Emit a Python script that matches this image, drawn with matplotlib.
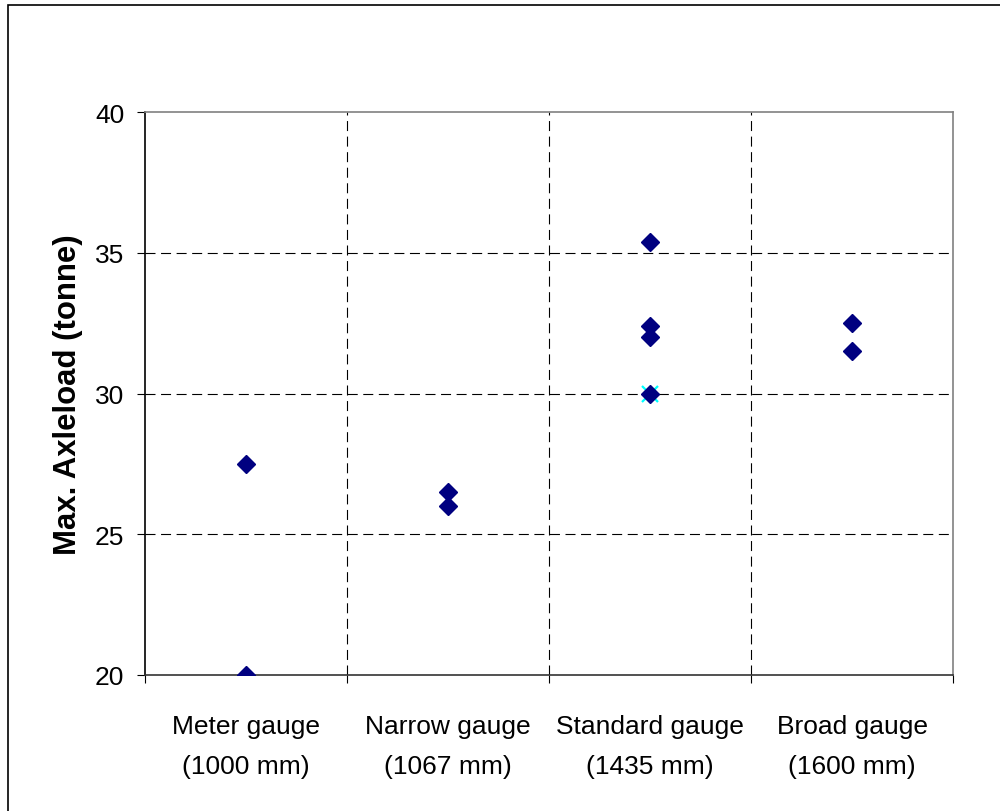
#!/usr/bin/env python3
"""Max. axleload per track gauge, drawn as a category scatter."""

import matplotlib

matplotlib.use("Agg")
import matplotlib.pyplot as plt
from matplotlib import font_manager
from matplotlib.patches import Rectangle

gauges = ["Meter gauge\n(1000 mm)", "Narrow gauge\n(1067 mm)",
          "Standard gauge\n(1435 mm)", "Broad gauge\n(1600 mm)"]
meter_loads = [27.5, 20.0]
narrow_loads = [26.5, 26.0]
standard_loads = [35.4, 32.4, 32.0, 30.0]
broad_loads = [32.5, 31.5]
standard_extra = [30.0]
y_ticks = [20, 25, 30, 35, 40]


def pick_font():
    try:
        font_manager.findfont("Liberation Sans Narrow", fallback_to_default=False)
        return ["Liberation Sans Narrow", "DejaVu Sans"], 1.17
    except ValueError:
        return ["Liberation Sans", "DejaVu Sans"], 1.0


family, scale = pick_font()
plt.rcParams["font.family"] = family

fig = plt.figure(figsize=(10, 8.12), dpi=100)
fig.patches.append(Rectangle((0.008, -0.05), 1.2, 1.043, transform=fig.transFigure,
                             fill=False, edgecolor="black", linewidth=1.2))

ax = fig.add_axes([0.145, 0.1675, 0.808, 0.6933])
ax.set_xlim(0, 4)
ax.set_ylim(20, 40)

for gridline in [25, 30, 35]:
    ax.axhline(gridline, color="black", linewidth=0.8, linestyle=(0, (9, 5)), zorder=1)
for gridline in [1, 2, 3]:
    ax.axvline(gridline, color="black", linewidth=0.8, linestyle=(0, (9, 5)), zorder=1)

# second series sits under the 30 t standard-gauge point
ax.plot([2.5] * len(standard_extra), standard_extra, linestyle="none", marker="x",
        markersize=11, markeredgewidth=1.6, color="#00ffff", zorder=3)

groups = [meter_loads, narrow_loads, standard_loads, broad_loads]
for pos, loads in enumerate(groups):
    ax.plot([pos + 0.5] * len(loads), loads, linestyle="none", marker="D",
            markersize=9, color="#000080", markeredgecolor="#000080", zorder=4)

ax.set_yticks(y_ticks)
ax.set_yticklabels([str(v) for v in y_ticks], fontsize=19 * scale)
ax.tick_params(axis="y", direction="out", length=6, width=0.8, pad=9)

ax.set_xticks([0, 1, 2, 3, 4])
ax.set_xticklabels([])
ax.tick_params(axis="x", which="major", direction="out", length=6, width=0.8)
ax.set_xticks([0.5, 1.5, 2.5, 3.5], minor=True)
ax.set_xticklabels(gauges, minor=True, fontsize=19 * scale, linespacing=1.85)
ax.tick_params(axis="x", which="minor", length=0, pad=28)

ax.set_ylabel("Max. Axleload (tonne)", fontsize=22.4 * scale, fontweight="bold")
ax.yaxis.set_label_coords(-0.077, 0.5)

ax.spines["left"].set_color("black")
ax.spines["bottom"].set_color("#333333")
ax.spines["top"].set_color("#808080")
ax.spines["right"].set_color("#808080")
for side in ax.spines.values():
    side.set_linewidth(1.2)

fig.savefig("out.png", dpi=100)
